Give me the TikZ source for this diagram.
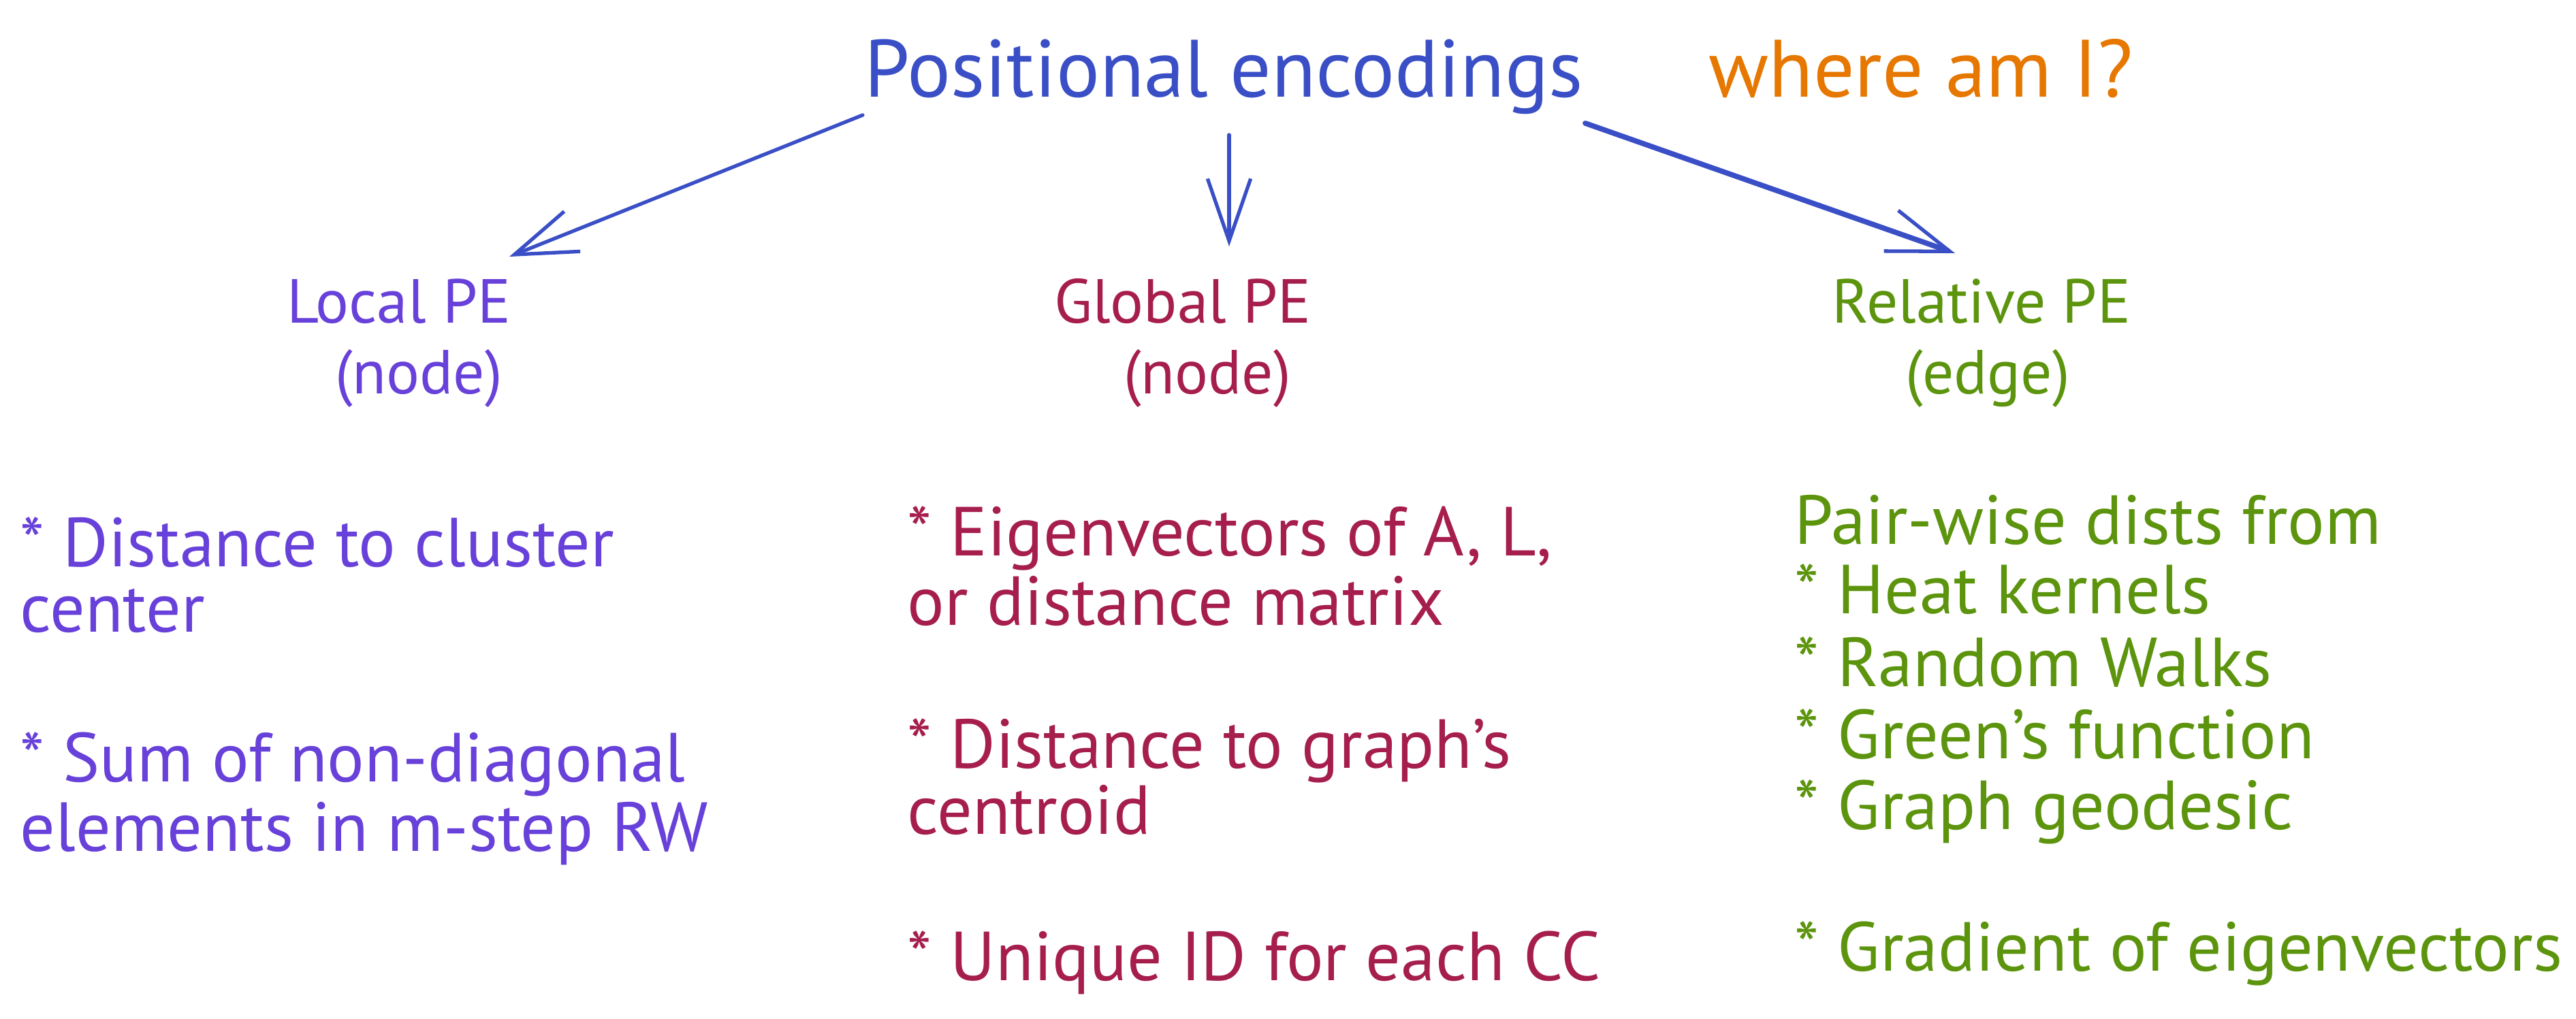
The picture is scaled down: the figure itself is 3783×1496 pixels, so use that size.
\documentclass[tikz,border=0pt]{standalone}
\usepackage{fontspec}
\setmainfont{PT Sans}
\usetikzlibrary{arrows.meta}
\definecolor{cTitle}{HTML}{3A4FC6}
\definecolor{cOrange}{HTML}{E67700}
\definecolor{cPurple}{HTML}{6741D9}
\definecolor{cRed}{HTML}{A61E4D}
\definecolor{cGreen}{HTML}{5C940D}
\tikzset{
  ttl/.style={inner sep=0pt, font=\fontsize{34}{40}\selectfont},
  hd/.style={inner sep=0pt, anchor=mid, font=\fontsize{26}{32}\selectfont},
  itm/.style={inner sep=0pt, anchor=mid west, font=\fontsize{29}{34}\selectfont},
  arr/.style={draw=cTitle, line width=1.5pt, line cap=round, line join=round,
    -{Straight Barb[length=26pt,width=18pt,line width=1.5pt]}}
}
\begin{document}
\begin{tikzpicture}[x=0.01cm,y=-0.01cm]
\useasboundingbox[fill=white] (0,0) rectangle (3783,1496);
% title
\node[ttl, text=cTitle, anchor=mid] (title) at (1797,134) {Positional encodings};
\node[ttl, text=cOrange, anchor=mid west] (where) at (2509,134) {where am I?};
% headings
\node[hd, text=cPurple] (loc) at (586,466) {Local PE};
\node[hd, text=cPurple] (locn) at (615,570) {(node)};
\node[hd, text=cRed] (glob) at (1737,466) {Global PE};
\node[hd, text=cRed] (globn) at (1773,570) {(node)};
\node[hd, text=cGreen] (rel) at (2910,466) {Relative PE};
\node[hd, text=cGreen] (reln) at (2919,570) {(edge)};
% arrows
\coordinate (a1s) at (1267,169);
\coordinate (a1e) at (748,377);
\coordinate (a2s) at (1805,198);
\coordinate (a2e) at (1805,362);
\coordinate (a3s) at (2328,181);
\coordinate (a3e) at (2871,372);
\draw[arr] (a1s) -- (a1e);
\draw[arr] (a2s) -- (a2e);
\draw[arr, line width=2.2pt] (a3s) -- (a3e);
% left list
\node[itm, text=cPurple] (l1) at (29,824) {* Distance to cluster};
\node[itm, text=cPurple] (l2) at (29,920) {center};
\node[itm, text=cPurple] (l3) at (29,1140) {* Sum of non-diagonal};
\node[itm, text=cPurple] (l4) at (29,1242) {elements in m-step RW};
% middle list
\node[itm, text=cRed] (m1) at (1332,808) {* Eigenvectors of A, L,};
\node[itm, text=cRed] (m2) at (1332,910) {or distance matrix};
\node[itm, text=cRed] (m3) at (1332,1120) {* Distance to graph's};
\node[itm, text=cRed] (m4) at (1332,1217) {centroid};
\node[itm, text=cRed] (m5) at (1332,1432) {* Unique ID for each CC};
% right list
\node[itm, text=cGreen] (r1) at (2635,791) {Pair-wise dists from};
\node[itm, text=cGreen] (r2) at (2635,893) {* Heat kernels};
\node[itm, text=cGreen] (r3) at (2635,1000) {* Random Walks};
\node[itm, text=cGreen] (r4) at (2635,1106) {* Green's function};
\node[itm, text=cGreen] (r5) at (2635,1210) {* Graph geodesic};
\node[itm, text=cGreen] (r6) at (2635,1418) {* Gradient of eigenvectors};
\end{tikzpicture}
\end{document}
